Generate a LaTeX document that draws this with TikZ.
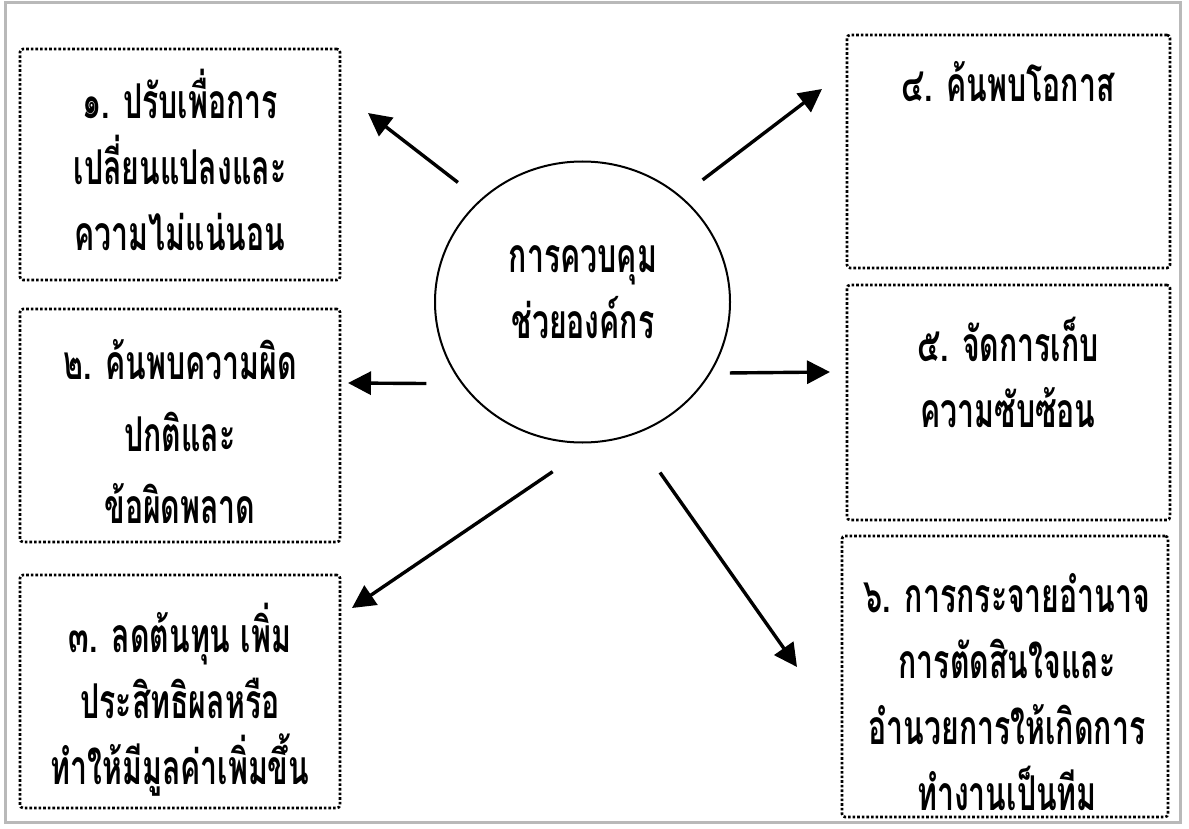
\documentclass[tikz,border=0pt]{standalone}
\usepackage{fontspec}
\newfontfamily\thaifont[Script=Thai, FakeStretch=0.63]{Loma}
\usetikzlibrary{arrows.meta,shapes.geometric}

\tikzset{
  box/.style={draw, densely dotted, line width=1.3pt, rounded corners=1.5pt,
    minimum width=160pt, inner sep=0pt},
  boxtext/.style={align=center, inner sep=0pt,
    font=\thaifont\bfseries\fontsize{24}{33}\selectfont},
  arr/.style={line width=1.7pt, -{Triangle[length=11.5pt,width=11.5pt]}},
}

\begin{document}
\begin{tikzpicture}[x=0.5pt, y=-0.5pt]
  \useasboundingbox (0,0) rectangle (1189,829);
  % scanned page frame
  \draw[gray!55, line width=1.5pt] (5,3) rectangle (1180,822);
  % centre
  \node[ellipse, draw, line width=1pt, minimum width=147.5pt, minimum height=140.5pt,
    inner sep=0pt] (hub) at (582.5,302) {};
  \node[boxtext] (hubtext) at (583,292) {การควบคุม\\ช่วยองค์กร};
  % left column
  \node[box, minimum height=115.5pt] (b1) at (180,164.5) {};
  \node[box, minimum height=116.5pt] (b2) at (180,425.5) {};
  \node[box, minimum height=116.5pt] (b3) at (180,691.5) {};
  % right column
  \node[box, minimum width=161.5pt, minimum height=116.5pt] (b4) at (1008.5,151.5) {};
  \node[box, minimum width=161.5pt, minimum height=117.5pt] (b5) at (1008.5,402.5) {};
  \node[box, minimum width=163pt, minimum height=140.5pt] (b6) at (1005,676.5) {};
  % texts
  \node[boxtext] (t1) at (180,160) {๑. ปรับเพื่อการ\\เปลี่ยนแปลงและ\\ความไม่แน่นอน};
  \node[boxtext, font=\thaifont\bfseries\fontsize{24}{36}\selectfont] (t2) at (180,432)
    {๒. ค้นพบความผิด\\ปกติและ\\ข้อผิดพลาด};
  \node[boxtext] (t3) at (180,700) {๓. ลดต้นทุน เพิ่ม\\ประสิทธิผลหรือ\\ทำให้มีมูลค่าเพิ่มขึ้น};
  \node[boxtext] (t4) at (1008,82) {๔. ค้นพบโอกาส};
  \node[boxtext] (t5) at (1008,372) {๕. จัดการเก็บ\\ความซับซ้อน};
  \node[boxtext] (t6) at (1007,692) {๖. การกระจายอำนาจ\\การตัดสินใจและ\\อำนวยการให้เกิดการ\\ทำงานเป็นทีม};
  % arrow tips, short of the boxes
  \coordinate (e1) at (368,113);
  \coordinate (e2) at (348,383);
  \coordinate (e3) at (352,608);
  \coordinate (e4) at (822,89);
  \coordinate (e5) at (830,372);
  \coordinate (e6) at (797,667);
  \draw[arr, shorten <=14pt] (hub.135) -- (e1);
  \draw[arr, shorten <=17.5pt] (hub.214) -- (e2);
  \draw[arr, shorten <=25.5pt] (hub.275) -- (e3);
  \draw[arr, shorten <=13.5pt] (hub.47) -- (e4);
  \draw[arr, shorten <=9.5pt] (hub.331) -- (e5);
  \draw[arr, shorten <=23pt] (hub.291) -- (e6);
\end{tikzpicture}
\end{document}
